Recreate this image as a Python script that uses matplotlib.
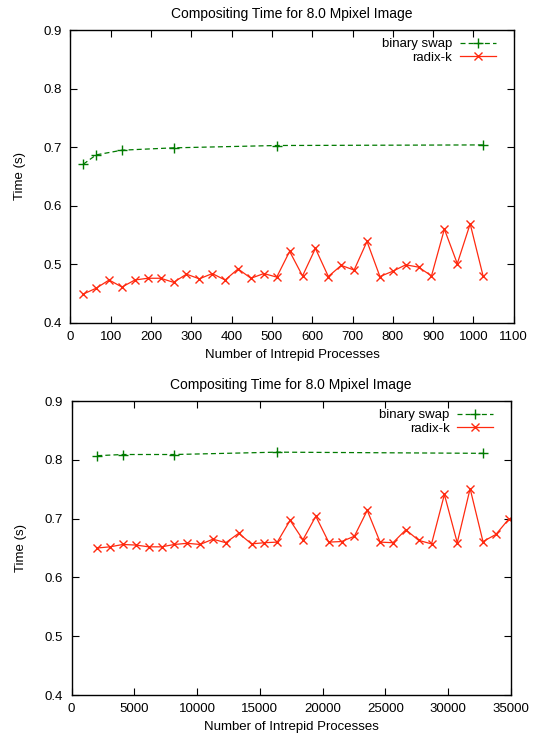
import matplotlib
matplotlib.use("Agg")
import matplotlib.pyplot as plt

plt.rcParams['font.family'] = ['Liberation Sans', 'DejaVu Sans']

# top panel: up to 1024 processes
top_bs_x = [32, 64, 128, 256, 512, 1024]
top_bs_y = [0.671, 0.687, 0.695, 0.699, 0.703, 0.704]
top_rk_x = [32 * i for i in range(1, 33)]
top_rk_y = [0.449, 0.459, 0.473, 0.461, 0.473, 0.476, 0.476, 0.469,
            0.483, 0.475, 0.484, 0.473, 0.492, 0.476, 0.484, 0.478,
            0.522, 0.480, 0.527, 0.479, 0.498, 0.490, 0.539, 0.479,
            0.488, 0.499, 0.495, 0.480, 0.560, 0.501, 0.569, 0.480]

# bottom panel: up to 32k processes
bot_bs_x = [2048, 4096, 8192, 16384, 32768]
bot_bs_y = [0.807, 0.809, 0.809, 0.813, 0.811]
bot_rk_x = [1024 * i for i in range(2, 35)]
bot_rk_y = [0.650, 0.652, 0.656, 0.655, 0.652, 0.652, 0.656, 0.658,
            0.656, 0.665, 0.659, 0.675, 0.657, 0.659, 0.660, 0.697,
            0.664, 0.704, 0.660, 0.661, 0.670, 0.714, 0.660, 0.659,
            0.681, 0.663, 0.657, 0.741, 0.659, 0.751, 0.661, 0.673,
            0.699]

title = "Compositing Time for 8.0 Mpixel Image"
green = "#007a00"
red = "#ff2a10"
fs = 9.5

fig = plt.figure(figsize=(5.39, 7.34), dpi=100)
ax1 = fig.add_axes([70.4 / 539, 1 - 322.7 / 734, (513.7 - 70.4) / 539, (322.7 - 30.3) / 734])
ax2 = fig.add_axes([71.5 / 539, 1 - 695 / 734, (511 - 71.5) / 539, (695 - 401) / 734])


def draw(ax, bx, by, rx, ry, xlim, xticks):
    ax.plot(bx, by, color=green, ls='--', lw=0.9, marker='+', ms=7, mew=1.0,
            label='binary swap', dashes=(4, 2.5))
    ax.plot(rx, ry, color=red, ls='-', lw=0.9, marker='x', ms=6, mew=1.0,
            label='radix-k')
    ax.set_xlim(*xlim)
    ax.set_ylim(0.4, 0.9)
    ax.set_xticks(xticks)
    ax.set_yticks([0.4, 0.5, 0.6, 0.7, 0.8, 0.9])
    ax.set_yticklabels(['0.4', '0.5', '0.6', '0.7', '0.8', '0.9'])
    ax.tick_params(direction='in', top=True, right=True, labelsize=fs,
                   length=5, width=0.8, pad=6)
    for s in ax.spines.values():
        s.set_linewidth(1.0)
    ax.set_title(title, fontsize=fs + 0.5, pad=9)
    ax.set_xlabel("Number of Intrepid Processes", fontsize=fs, labelpad=4)
    ax.set_ylabel("Time (s)", fontsize=fs, labelpad=13)
    ax.legend(loc='upper right', bbox_to_anchor=(0.977, 1.0), frameon=False,
              markerfirst=False, fontsize=fs, handlelength=2.7,
              borderaxespad=0.2, labelspacing=0.1, handletextpad=0.6)


draw(ax1, top_bs_x, top_bs_y, top_rk_x, top_rk_y, (0, 1100), range(0, 1101, 100))
draw(ax2, bot_bs_x, bot_bs_y, bot_rk_x, bot_rk_y, (0, 35000), range(0, 35001, 5000))

fig.savefig("out.png", dpi=100)
